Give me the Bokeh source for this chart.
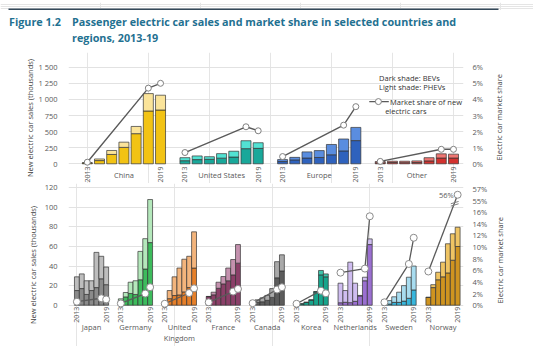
import math
from bokeh.plotting import figure
from bokeh.layouts import column, row
from bokeh.models import Range1d, LinearAxis, FixedTicker, Div
from bokeh.embed import file_html
from bokeh.resources import INLINE
from bokeh.core.properties import value

NaN = float("nan")
FONT = "Open Sans"

figure_number = "Figure 1.2"
title_lines = ["Passenger electric car sales and market share in selected countries and",
               "regions, 2013-19"]
left_label = "New electric car sales (thousands)"
right_label = "Electric car market share"
years = ["2013", "2014", "2015", "2016", "2017", "2018", "2019"]

# ---------------- Top panel: sales in thousands ----------------
top_regions = ["China", "United States", "Europe", "Other"]
china_total = [15, 75, 207, 336, 580, 1090, 1065]
china_bev = [14, 50, 145, 255, 468, 820, 835]
us_total = [95, 122, 110, 158, 195, 358, 327]
us_bev = [48, 65, 70, 88, 105, 235, 240]
europe_total = [65, 100, 185, 205, 300, 385, 565]
europe_bev = [35, 60, 90, 98, 140, 200, 360]
other_total = [35, 40, 40, 45, 95, 155, 150]
other_bev = [15, 20, 18, 20, 45, 90, 90]
china_share = [0.1, NaN, NaN, NaN, NaN, 4.7, 5.0]
us_share = [0.7, NaN, NaN, NaN, NaN, 2.3, 2.05]
europe_share = [0.45, NaN, NaN, NaN, NaN, 2.4, 3.55]
other_share = [0.15, NaN, NaN, NaN, NaN, 0.9, 0.9]
top_ticks = [0, 250, 500, 750, 1000, 1250, 1500]
top_tick_labels = ["0", "250", "500", "750", "1 000", "1 250", "1 500"]
top_share_ticks = [0, 1, 2, 3, 4, 5, 6]

top_totals = [china_total, us_total, europe_total, other_total]
top_bevs = [china_bev, us_bev, europe_bev, other_bev]
top_shares = [china_share, us_share, europe_share, other_share]
top_dark = ["#f2c314", "#19a89a", "#2f62bd", "#d2322f"]
top_light = ["#fbe49a", "#52e2d3", "#5a8ddf", "#ef7672"]

# ---------------- Bottom panel: sales in thousands ----------------
bottom_countries = ["Japan", "Germany", "United\nKingdom", "France", "Canada",
                    "Korea", "Netherlands", "Sweden", "Norway"]
japan_total = [29, 32, 25, 25, 54, 50, 39]
japan_bev = [15, 17, 11, 15, 18, 27, 21]
germany_total = [6.5, 13, 23.5, 25, 55, 68, 108]
germany_bev = [4.5, 8.5, 12, 11, 26, 37, 64]
uk_total = [3.6, 15, 29, 38, 47, 50, 75]
uk_bev = [2.5, 6.7, 9.9, 10.5, 13.6, 18, 38]
france_total = [9, 13.3, 23.5, 29.3, 38, 46.7, 62]
france_bev = [8.8, 10.6, 17.3, 21.8, 25, 31, 43]
canada_total = [4, 5.5, 7.5, 10, 17, 44.5, 51.5]
canada_bev = [2, 3, 3.5, 5, 8, 28, 35]
korea_total = [1, 1.5, 3, 5.5, 14, 35.5, 32]
korea_bev = [0.8, 1.3, 2.9, 5.2, 13.5, 31, 29]
netherlands_total = [22.5, 15, 44, 22.5, 10, 28.6, 67.8]
netherlands_bev = [2.5, 3, 2.6, 4, 9.5, 25, 62]
sweden_total = [1.7, 4.7, 8.6, 13.3, 20, 28.6, 40]
sweden_bev = [0.4, 1.2, 2.9, 2.9, 4.2, 7.1, 15.6]
norway_total = [8.2, 21, 33.7, 44, 62.8, 73, 79.7]
norway_bev = [7.9, 18, 26, 29, 33, 46, 60]

japan_share = [0.6, NaN, NaN, NaN, NaN, 1.2, 1.0]
germany_share = [0.3, NaN, NaN, NaN, NaN, 2.0, 3.1]
uk_share = [0.25, NaN, NaN, NaN, NaN, 2.1, 2.9]
france_share = [0.5, NaN, NaN, NaN, NaN, 2.35, 2.8]
canada_share = [0.35, NaN, NaN, NaN, NaN, 2.7, 3.1]
korea_share = [0.25, NaN, NaN, NaN, NaN, 2.5, 2.05]
netherlands_share = [5.6, NaN, NaN, NaN, NaN, 6.3, 15.3]
sweden_share = [0.5, NaN, NaN, NaN, NaN, 7.1, 11.6]
norway_share = [5.8, NaN, NaN, NaN, NaN, NaN, 56]

bottom_ticks = [0, 20, 40, 60, 80, 100, 120]
bottom_share_ticks = [0, 2, 4, 6, 8, 10, 12, 14, 16]
bottom_share_break_labels = [55, 57]

bottom_totals = [japan_total, germany_total, uk_total, france_total, canada_total,
                 korea_total, netherlands_total, sweden_total, norway_total]
bottom_bevs = [japan_bev, germany_bev, uk_bev, france_bev, canada_bev,
               korea_bev, netherlands_bev, sweden_bev, norway_bev]
bottom_shares = [japan_share, germany_share, uk_share, france_share, canada_share,
                 korea_share, netherlands_share, sweden_share, norway_share]
bottom_dark = ["#8a8a8a", "#3dbb5c", "#e57f2a", "#8b3f68", "#5c5c5c",
               "#17a58c", "#9a6fd0", "#38b6dc", "#cf9420"]
bottom_light = ["#bdbdbd", "#b4e8bb", "#f3b47c", "#c491ae", "#a9a9a9",
                "#3fc5ab", "#cfbdf0", "#a8dcef", "#efc463"]


# broken share scale: values above 16% placed on the 55-57% stretch
def share_pos(v):
    if v <= 16:
        return v
    return 18 + (v - 55) * (20 - 18) / (57 - 55)


TICK_COLOR = "#595959"
OUTLINE = "#333333"
GRID = "#e2e2e2"
LINE = "#5a5a5a"
TEAL = "#1f7191"
RIGHT_W = 43
PANEL_W = 533 - RIGHT_W   # frame spans x 68..467 of the page
H1, H2 = 131, 163
RULE_H = 10

# ---------------- Rule above the title (small svg figure) ----------------
rule = figure(width=533, height=RULE_H, x_range=Range1d(0, 533), y_range=Range1d(RULE_H, 0),
              output_backend="svg", toolbar_location=None, x_axis_location=None,
              y_axis_location=None, min_border=0, outline_line_color=None)
rule.segment(x0=[8], y0=[7], x1=[498], y1=[7], line_color="#34495a", line_width=1.8)

# ---------------- Title (HTML) ----------------
title_html = (
    f'<div style="position:relative;width:533px;height:{52 - RULE_H}px;'
    f'font-family:\'{FONT}\',sans-serif;'
    f'color:{TEAL};font-weight:700;font-size:10.8px;line-height:16px;">'
    f'<div style="position:absolute;left:9px;top:{14 - RULE_H}px;white-space:nowrap;">'
    f'{figure_number}</div>'
    f'<div style="position:absolute;left:72px;top:{14 - RULE_H}px;white-space:nowrap;">'
    f'{title_lines[0]}<br>{title_lines[1]}</div></div>'
)
title_div = Div(text=title_html, width=533, height=52 - RULE_H, margin=(0, 0, 0, 0))


def side_label(text, width, height, pad_left, lift):
    html = (
        f'<div style="width:{width}px;height:{height}px;display:flex;align-items:center;'
        f'justify-content:flex-start;">'
        f'<span style="margin-left:{pad_left}px;margin-bottom:{2 * lift}px;'
        f'writing-mode:vertical-rl;transform:rotate(180deg);'
        f'font-family:\'{FONT}\',sans-serif;font-size:7.5px;color:#404040;white-space:nowrap;">'
        f'{text}</span></div>'
    )
    return Div(text=html, width=width, height=height, margin=(0, 0, 0, 0))


# ---------------- Top panel ----------------
Y1_LO, Y1_HI = -305.9, 1728.3
p1 = figure(width=PANEL_W, height=H1, x_range=Range1d(-1.54, 30.82),
            y_range=Range1d(Y1_LO, Y1_HI), output_backend="svg", toolbar_location=None,
            x_axis_location=None, min_border_left=68, min_border_right=PANEL_W - 467,
            min_border_top=0, min_border_bottom=0, outline_line_color=None)
p1.extra_y_ranges = {"share": Range1d(Y1_LO / 250, Y1_HI / 250)}

for g in range(4):
    xs = [g * 8 + i for i in range(7)]
    p1.vbar(x=xs, width=0.82, bottom=0, top=top_bevs[g], fill_color=top_dark[g],
            line_color=OUTLINE, line_width=0.7)
    p1.vbar(x=xs, width=0.82, bottom=top_bevs[g], top=top_totals[g], fill_color=top_light[g],
            line_color=OUTLINE, line_width=0.7)
    sx = [g * 8 + i for i, v in enumerate(top_shares[g]) if not math.isnan(v)]
    sy = [v for v in top_shares[g] if not math.isnan(v)]
    p1.line(sx, sy, y_range_name="share", line_color=LINE, line_width=1.4)
    p1.scatter(sx, sy, y_range_name="share", size=6, fill_color="white",
               line_color="#808080", line_width=1)
    p1.text(x=[xs[0], xs[-1]], y=[-40, -40], text=[years[0], years[-1]], angle=math.pi / 2,
            text_align="right", text_baseline="middle", text_font=value(FONT),
            text_font_size="7px", text_color=TICK_COLOR)
    p1.text(x=[g * 8 + 3], y=[-175], text=[top_regions[g]], text_align="center",
            text_baseline="middle", text_font=value(FONT), text_font_size="7.5px",
            text_color=TICK_COLOR)

# legend
p1.text(x=[23.9, 23.9], y=[1330, 1190], text=["Dark shade: BEVs", "Light shade: PHEVs"],
        text_baseline="middle", text_font=value(FONT), text_font_size="7.5px",
        text_color="#333333")
p1.line([23.1, 24.7], [966, 966], line_color=LINE, line_width=1.4)
p1.scatter([23.85], [966], size=6, fill_color="white", line_color="#808080")
p1.text(x=[24.8, 24.4], y=[966, 820], text=["Market share of new", "electric cars"],
        text_baseline="middle", text_font=value(FONT), text_font_size="7.5px",
        text_color="#333333")

ax = p1.yaxis[0]
ax.ticker = FixedTicker(ticks=top_ticks)
ax.major_label_overrides = {k: v for k, v in zip(top_ticks, top_tick_labels)}
ax.axis_label = left_label
ax.axis_label_standoff = 0
p1.ygrid.ticker = FixedTicker(ticks=top_ticks)
p1.ygrid.grid_line_color = GRID

rax = LinearAxis(y_range_name="share", ticker=FixedTicker(ticks=top_share_ticks),
                 major_label_overrides={k: f"{k}%" for k in top_share_ticks})
p1.add_layout(rax, "right")

# ---------------- Bottom panel ----------------
Y2_LO, Y2_HI = -42.2, 124.4
p2 = figure(width=PANEL_W, height=H2, x_range=Range1d(-1.72, 79.2),
            y_range=Range1d(Y2_LO, Y2_HI), output_backend="svg", toolbar_location=None,
            x_axis_location=None, min_border_left=68, min_border_right=PANEL_W - 467,
            min_border_top=0, min_border_bottom=0, outline_line_color=None)
p2.extra_y_ranges = {"share": Range1d(Y2_LO * 0.16831, Y2_HI * 0.16831)}

for g in range(9):
    xs = [g * 9 + i for i in range(7)]
    p2.vbar(x=xs, width=1.0, bottom=0, top=bottom_bevs[g], fill_color=bottom_dark[g],
            line_color=OUTLINE, line_width=0.7)
    p2.vbar(x=xs, width=1.0, bottom=bottom_bevs[g], top=bottom_totals[g],
            fill_color=bottom_light[g], line_color=OUTLINE, line_width=0.7)
    sx = [g * 9 + i for i, v in enumerate(bottom_shares[g]) if not math.isnan(v)]
    sy = [share_pos(v) for v in bottom_shares[g] if not math.isnan(v)]
    p2.line(sx, sy, y_range_name="share", line_color=LINE, line_width=1.3)
    p2.scatter(sx, sy, y_range_name="share", size=7, fill_color="white",
               line_color="#8c8c8c", line_width=1)
    p2.text(x=[xs[0], xs[-1]], y=[-1.5, -1.5], text=[years[0], years[-1]], angle=math.pi / 2,
            text_align="right", text_baseline="middle", text_font=value(FONT),
            text_font_size="7px", text_color=TICK_COLOR)
    lines = bottom_countries[g].split("\n")
    p2.text(x=[g * 9 + 3] * len(lines), y=[-22.5 - 11 * k for k in range(len(lines))],
            text=lines, text_align="center", text_baseline="middle", text_font=value(FONT),
            text_font_size="7.5px", text_color=TICK_COLOR)

# break marks on the Norway line and its label
p2.segment(x0=[76.6, 76.6], y0=[17.45, 17.05], x1=[78.2, 78.2], y1=[17.85, 17.45],
           y_range_name="share", line_color="#808080", line_width=1)
p2.text(x=[77.2], y=[share_pos(norway_share[-1])], text=[f"{norway_share[-1]:.0f}%"],
        y_range_name="share", text_align="right", text_baseline="middle",
        text_font=value(FONT), text_font_size="7.5px", text_color=TICK_COLOR)

ax2 = p2.yaxis[0]
ax2.ticker = FixedTicker(ticks=bottom_ticks)
ax2.axis_label = left_label
ax2.axis_label_standoff = 4
p2.ygrid.ticker = FixedTicker(ticks=bottom_ticks)
p2.ygrid.grid_line_color = GRID

rticks = bottom_share_ticks + [share_pos(v) for v in bottom_share_break_labels]
rlabels = {k: f"{k}%" for k in bottom_share_ticks}
for v in bottom_share_break_labels:
    rlabels[share_pos(v)] = f"{v}%"
rax2 = LinearAxis(y_range_name="share", ticker=FixedTicker(ticks=rticks),
                  major_label_overrides=rlabels)
p2.add_layout(rax2, "right")

for p in (p1, p2):
    for a in p.yaxis:
        a.axis_line_color = None
        a.major_tick_line_color = None
        a.minor_tick_line_color = None
        a.major_label_text_font = FONT
        a.major_label_text_font_size = "7.5px"
        a.major_label_text_color = TICK_COLOR
        a.axis_label_text_font = FONT
        a.axis_label_text_font_size = "7.5px"
        a.axis_label_text_font_style = "normal"
        a.axis_label_text_color = "#404040"
    p.yaxis[0].major_label_standoff = 5
    p.yaxis[1].major_label_standoff = 3

layout = column(
    rule,
    title_div,
    row(
        column(p1, p2, spacing=0),
        column(side_label(right_label, RIGHT_W, H1, 4, 0),
               side_label(right_label, RIGHT_W, H2, 5, 4), spacing=0),
        spacing=0,
    ),
    spacing=0,
)
open("out.html", "w").write(file_html(layout, INLINE))
